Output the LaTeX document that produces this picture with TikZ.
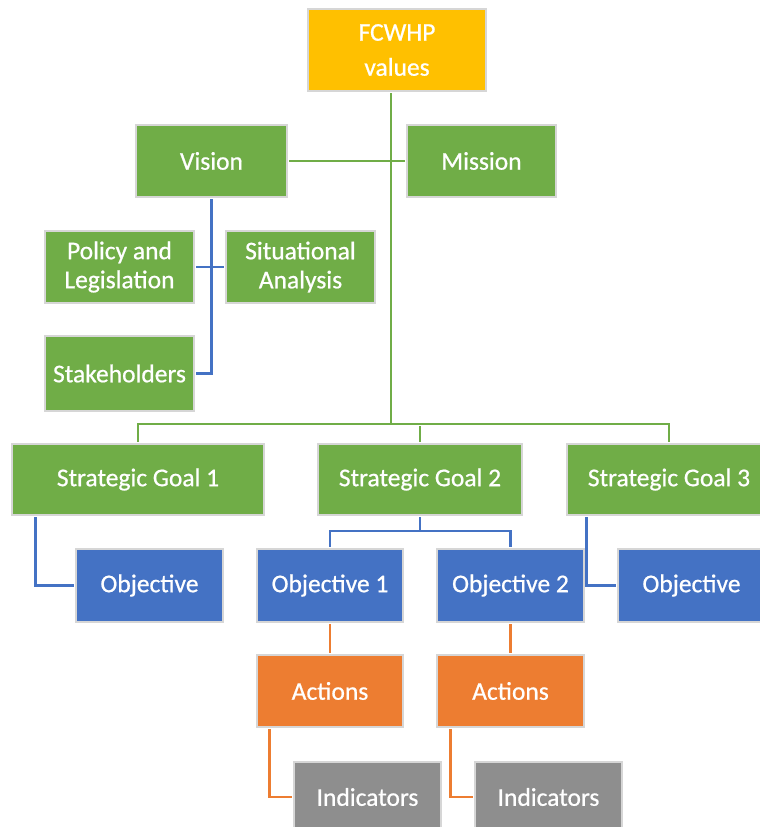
\documentclass[tikz,border=0pt]{standalone}
\usepackage{fontspec}
\setmainfont{Carlito}
\newfontfamily\boxfont{Carlito}[FakeBold=0.7]
\definecolor{cgreen}{HTML}{70AD47}
\definecolor{cblue}{HTML}{4472C4}
\definecolor{corange}{HTML}{ED7D31}
\definecolor{cgray}{HTML}{8E8E8E}
\definecolor{cgold}{HTML}{FFC000}
\definecolor{cedge}{HTML}{D6D6D6}
\begin{document}
\begin{tikzpicture}[x=1pt,y=-1pt,
  box/.style={draw=cedge,line width=1.2pt,inner sep=0pt,text=white,align=center,
    font=\boxfont\fontsize{25.5}{29}\selectfont},
  gbox/.style={box,fill=cgreen,minimum width=149pt,minimum height=72pt},
  bbox/.style={box,fill=cblue,minimum width=147pt,minimum height=73pt},
  obox/.style={box,fill=corange,minimum width=147pt,minimum height=72pt},
  ibox/.style={box,fill=cgray,minimum width=147pt,minimum height=70pt},
  link/.style={line width=2.2pt,shorten <=1.5pt,shorten >=1.5pt},
  glink/.style={link,draw=cgreen},
  blink/.style={link,draw=cblue},
  olink/.style={link,draw=corange}]
\useasboundingbox[fill=white] (0,0) rectangle (760,827);

% top of the hierarchy
\node[box,fill=cgold,minimum width=178pt,minimum height=82pt,
  font=\boxfont\fontsize{25.5}{35}\selectfont] (values) at (397,50) {FCWHP\\values};
\node[gbox,minimum width=151pt] (vision) at (211.5,161) {Vision};
\node[gbox] (mission) at (481.5,161) {Mission};

% inputs to the vision
\node[gbox] (policy) at (119.5,267) {Policy and\\Legislation};
\node[gbox] (situ) at (300.5,267) {Situational\\Analysis};
\node[gbox,minimum height=75pt] (stake) at (119.5,373.5) {Stakeholders};

% strategic goals
\node[gbox,minimum width=252pt,minimum height=71pt] (sg1) at (138,479.5) {Strategic Goal 1};
\node[gbox,minimum width=204pt,minimum height=71pt] (sg2) at (420,479.5) {Strategic Goal 2};
\node[gbox,minimum width=204pt,minimum height=71pt] (sg3) at (669,479.5) {Strategic Goal 3};

% objectives
\node[bbox] (objl) at (149.5,585.5) {Objective};
\node[bbox,minimum width=146pt] (obj1) at (330,585.5) {Objective 1};
\node[bbox] (obj2) at (510.5,585.5) {Objective 2};
\node[bbox] (objr) at (691.5,585.5) {Objective};

% actions and indicators
\node[obox,minimum width=146pt] (act1) at (330,691) {Actions};
\node[obox] (act2) at (510.5,691) {Actions};
\node[ibox] (ind1) at (367.5,797) {Indicators};
\node[ibox] (ind2) at (548.5,797) {Indicators};

% junction points
\coordinate (trunk) at (391,424);
\coordinate (sg2bar) at (421,531);

% green trunk and goal bar
\draw[glink] (values.south -| trunk) -- (trunk);
\draw[glink] (vision.east) -- (mission.west);
\draw[glink] (sg1.north) |- (trunk) -| (sg3.north);
\draw[glink] (sg2.north) -- (sg2.north |- trunk);

% blue links around the vision
\draw[blink] (vision.south) |- (stake.east);
\draw[blink] (policy.east) -- (situ.west);

% blue links from goals to objectives
\draw[blink] ([xshift=24pt]sg1.south west) |- (objl.west);
\draw[blink] (sg2.south) -- (sg2.south |- sg2bar);
\draw[blink] (obj1.north) |- (sg2bar) -| (obj2.north);
\draw[blink] ([xshift=20pt]sg3.south west) |- (objr.west);

% orange links to actions and indicators
\draw[olink] (obj1.south) -- (act1.north);
\draw[olink] (obj2.south) -- (act2.north);
\draw[olink] ([xshift=13pt]act1.south west) |- (ind1.west);
\draw[olink] ([xshift=14pt]act2.south west) |- (ind2.west);
\end{tikzpicture}
\end{document}
